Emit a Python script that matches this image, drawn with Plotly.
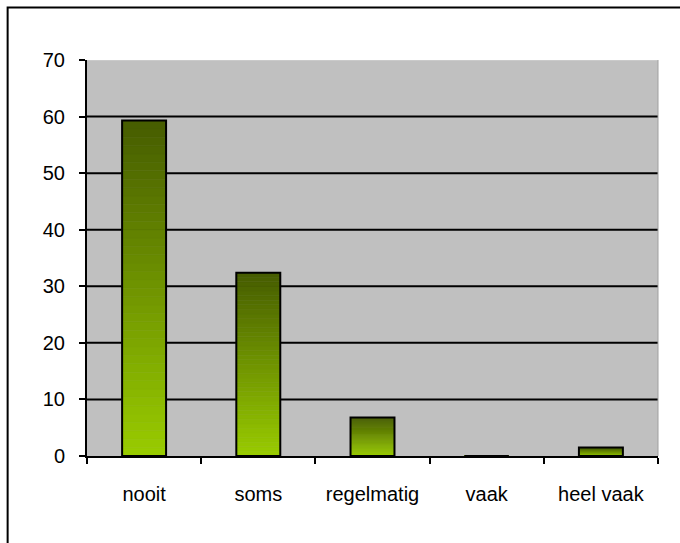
import plotly.graph_objects as go

categories = ["nooit", "soms", "regelmatig", "vaak", "heel vaak"]
values = [59.3, 32.4, 6.8, 0, 1.5]
y_ticks = [0, 10, 20, 30, 40, 50, 60, 70]

top_rgb = (70, 92, 0)
bottom_rgb = (153, 204, 0)
N = 40

fig = go.Figure()

for k in range(N):
    t = (k + 0.5) / N
    c = tuple(round(bottom_rgb[i] + (top_rgb[i] - bottom_rgb[i]) * t) for i in range(3))
    col = "rgb(%d,%d,%d)" % c
    fig.add_trace(go.Bar(
        x=categories,
        y=[v / N for v in values],
        base=[v * k / N for v in values],
        marker=dict(color=col, line=dict(color=col, width=0.6)),
        hoverinfo="skip", showlegend=False,
    ))

fig.add_trace(go.Bar(
    x=categories, y=values,
    marker=dict(color="rgba(0,0,0,0)", line=dict(color="black", width=2)),
    showlegend=False,
))

font = dict(family="Liberation Sans, Arial, sans-serif", size=20, color="black")

shapes = []
for v in y_ticks[1:-1]:
    shapes.append(dict(type="line", xref="paper", yref="y", x0=0, x1=1, y0=v, y1=v,
                       line=dict(color="black", width=2), layer="below"))
shapes.append(dict(type="line", xref="paper", yref="y", x0=0, x1=1, y0=70, y1=70,
                   line=dict(color="#d4d4d4", width=1), layer="below"))
shapes.append(dict(type="line", xref="paper", yref="paper", x0=1, x1=1, y0=0, y1=1,
                   line=dict(color="#a0a0a0", width=1), layer="below"))
# outer chart border
shapes.append(dict(type="rect", xref="paper", yref="paper",
                   x0=-0.139, x1=1.07, y0=-0.26, y1=1.1325,
                   line=dict(color="black", width=2), fillcolor="rgba(0,0,0,0)"))

fig.update_layout(
    width=680, height=543,
    margin=dict(l=87, r=22, t=60, b=87),
    paper_bgcolor="white", plot_bgcolor="#c0c0c0",
    barmode="overlay", bargap=0.615,
    font=font,
    shapes=shapes,
    xaxis=dict(
        showline=True, linecolor="black", linewidth=2,
        ticks="outside", tickson="boundaries", ticklen=6, tickwidth=2, tickcolor="black",
        showgrid=False, ticklabelstandoff=19, tickfont=font,
    ),
    yaxis=dict(
        range=[0, 70], tickvals=y_ticks, showgrid=False, zeroline=False,
        showline=True, linecolor="black", linewidth=2,
        ticks="outside", ticklen=6, tickwidth=2, tickcolor="black",
        ticklabelstandoff=10, tickfont=font,
    ),
)

fig.write_html("out.html", config={"displayModeBar": False},
               post_script="document.body.style.margin='0';document.body.style.overflow='hidden';")
